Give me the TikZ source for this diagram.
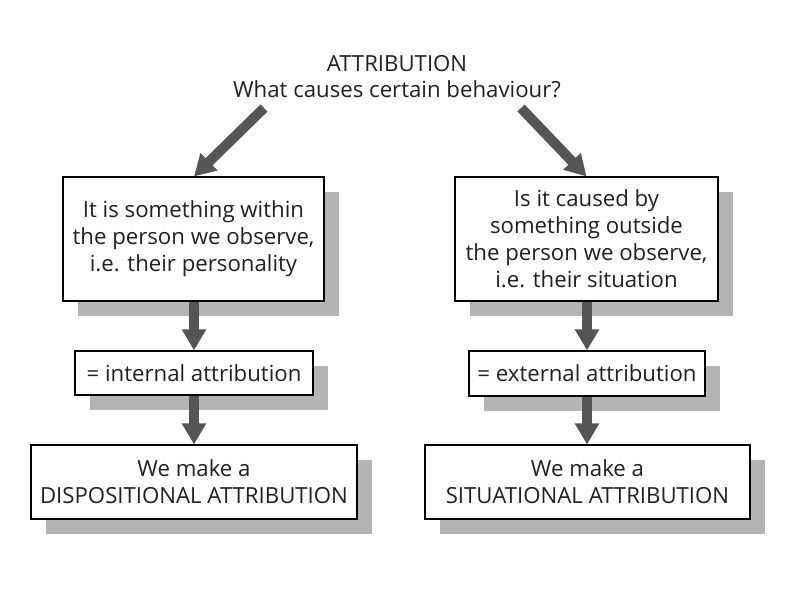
\documentclass[tikz,border=0pt]{standalone}
\usepackage{fontspec}
\setmainfont{Open Sans}
\usepackage{tikz}
\usetikzlibrary{arrows.meta}
\usetikzlibrary{shadows}

\definecolor{arrowgray}{HTML}{555555}
\definecolor{shadegray}{HTML}{B4B4B6}
\definecolor{inkgray}{HTML}{231F20}

\begin{document}
\begin{tikzpicture}[x=1pt,y=-1pt,
  info box/.style={draw=black,line width=1.1pt,fill=white,align=center,text=inkgray,
    font=\fontsize{22.2}{27}\selectfont,inner sep=0pt,
    drop shadow={shadow xshift=15pt,shadow yshift=-15pt,fill=shadegray,opacity=1}},
  flow arrow/.style={draw=arrowgray,line width=10pt,-{Triangle[width=23pt,length=21pt]}}]
  \useasboundingbox (0,0) rectangle (794,595);
  \node[align=center,text=inkgray,font=\fontsize{22.2}{26}\selectfont] (title) at (397,77) {ATTRIBUTION\\What causes certain behaviour?};

  \node[info box,minimum width=261pt,minimum height=124pt] (lbox) at (193.5,239) {It is something within\\the person we observe,\\i.e. their personality};
  \node[info box,minimum width=263pt,minimum height=124pt] (rbox) at (586.5,239) {Is it caused by\\something outside\\the person we observe,\\i.e. their situation};
  \node[info box,minimum width=238pt,minimum height=44pt] (intl) at (194,373) {= internal attribution};
  \node[info box,minimum width=236pt,minimum height=45pt] (extl) at (587,373.5) {= external attribution};
  \node[info box,minimum width=326pt,minimum height=74pt] (disp) at (194,482) {We make a\\DISPOSITIONAL ATTRIBUTION};
  \node[info box,minimum width=325pt,minimum height=74pt] (situ) at (587.5,482) {We make a\\SITUATIONAL ATTRIBUTION};

  \coordinate (ltail) at (264,108);
  \coordinate (rtail) at (521,108);
  \draw[flow arrow] (ltail) -- (intl.north |- lbox.north);
  \draw[flow arrow] (rtail) -- (rbox.north);
  \draw[flow arrow] (intl.north |- lbox.south) -- (intl.north);
  \draw[flow arrow] (intl.south) -- (intl.south |- disp.north);
  \draw[flow arrow] (extl.north |- rbox.south) -- (extl.north);
  \draw[flow arrow] (extl.south) -- (extl.south |- situ.north);
\end{tikzpicture}
\end{document}
